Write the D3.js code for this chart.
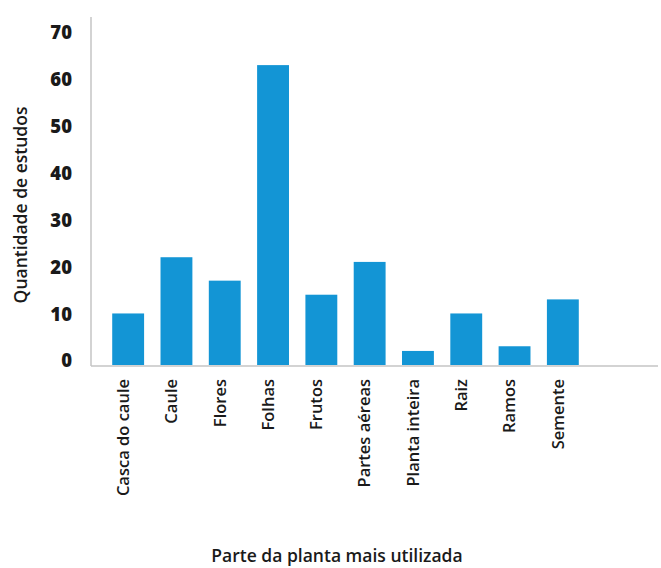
<!DOCTYPE html>
<html>
<head>
<meta charset="utf-8">
<script src="https://cdn.jsdelivr.net/npm/d3@7"></script>
<style>
  html, body { margin: 0; padding: 0; background: #fff; }
  text { font-family: "Open Sans", "DejaVu Sans", sans-serif; fill: #1a1a1a; }
</style>
</head>
<body>
<svg id="chart" width="661" height="568"></svg>
<script>
const categories = ["Casca do caule", "Caule", "Flores", "Folhas", "Frutos", "Partes aéreas", "Planta inteira", "Raiz", "Ramos", "Semente"];
const values = [11, 23, 18, 64, 15, 22, 3, 11, 4, 14];
const yTicks = [0, 10, 20, 30, 40, 50, 60, 70];
const yTitle = "Quantidade de estudos";
const xTitle = "Parte da planta mais utilizada";

const svg = d3.select("#chart");
const axisX0 = 91, axisX1 = 658, axisYTop = 17, baseY = 366;

const x = d3.scaleBand().domain(categories).range([104, 587]).paddingInner(0.34).paddingOuter(0.17);
const y = d3.scaleLinear().domain([0, 70]).range([365, 37]);

// bars
svg.append("g").selectAll("rect").data(categories).join("rect")
  .attr("x", d => x(d))
  .attr("width", x.bandwidth())
  .attr("y", (d, i) => y(values[i]))
  .attr("height", (d, i) => y(0) - y(values[i]))
  .attr("fill", "#1395d5");

// axis lines
svg.append("line").attr("x1", axisX0).attr("x2", axisX0).attr("y1", axisYTop).attr("y2", baseY)
  .attr("stroke", "#c4c4c4").attr("stroke-width", 1.5);
svg.append("line").attr("x1", axisX0).attr("x2", axisX1).attr("y1", baseY).attr("y2", baseY)
  .attr("stroke", "#c4c4c4").attr("stroke-width", 1.5);

// y tick labels
const yAxis = d3.axisLeft(y).tickValues(yTicks).tickSize(0).tickPadding(0);
const gy = svg.append("g").attr("transform", `translate(72,-4)`).call(yAxis);
gy.select(".domain").remove();
gy.selectAll("text")
  .style("font-family", "\"Open Sans\", sans-serif")
  .style("font-size", "18.5px").style("font-weight", "800").attr("fill", "#1a1a1a");

// x tick labels (rotated)
const xAxis = d3.axisBottom(x).tickSize(0).tickPadding(0);
const gx = svg.append("g").attr("transform", `translate(-5,${baseY})`).call(xAxis);
gx.select(".domain").remove();
gx.selectAll("text")
  .attr("transform", "rotate(-90)")
  .attr("x", -13).attr("y", 0).attr("dy", "0.35em")
  .attr("text-anchor", "end")
  .style("font-family", "\"Open Sans\", sans-serif")
  .style("font-size", "16.5px").style("font-weight", "600").attr("fill", "#1a1a1a");

// titles
svg.append("text").attr("transform", "translate(21,205) rotate(-90)")
  .attr("text-anchor", "middle").attr("dy", "0.35em")
  .style("font-size", "17.5px").style("font-weight", "600").text(yTitle);
svg.append("text").attr("x", 337).attr("y", 556).attr("dy", "0.35em")
  .attr("text-anchor", "middle")
  .style("font-size", "17.5px").style("font-weight", "600").text(xTitle);
</script>
</body>
</html>
